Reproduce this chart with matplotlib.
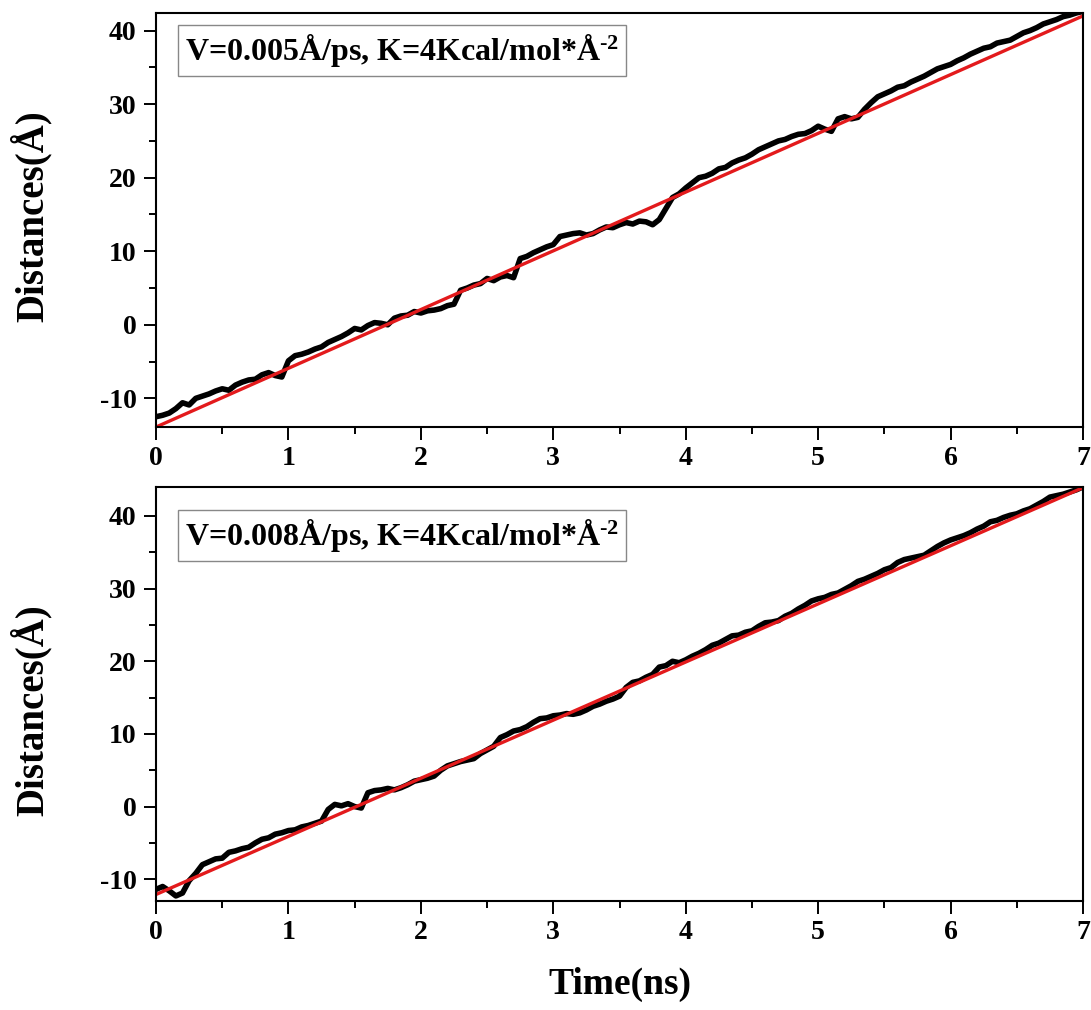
import numpy as np
import matplotlib
matplotlib.use("Agg")
import matplotlib.pyplot as plt

plt.rcParams['font.family'] = ['Liberation Serif', 'DejaVu Serif']
plt.rcParams['font.weight'] = 'bold'
plt.rcParams['axes.unicode_minus'] = False
plt.rcParams['mathtext.fontset'] = 'custom'
plt.rcParams['mathtext.rm'] = 'Liberation Serif:bold'
plt.rcParams['mathtext.bf'] = 'Liberation Serif:bold'
plt.rcParams['mathtext.default'] = 'bf'

# time axis (ns), sampled every 0.05 ns
time_ns = np.round(np.arange(0, 7.0001, 0.05), 2)

# pulling distance, V = 0.005 A/ps
dist_v005 = [
    -12.5, -12.3, -12.0, -11.4, -10.6, -10.9, -10.0, -9.7, -9.4, -9.0,
    -8.7, -8.9, -8.2, -7.8, -7.5, -7.4, -6.8, -6.5, -6.9, -7.1,
    -4.9, -4.2, -4.0, -3.7, -3.3, -3.0, -2.4, -2.0, -1.6, -1.1,
    -0.5, -0.7, -0.1, 0.3, 0.2, 0.0, 0.9, 1.2, 1.3, 1.8,
    1.6, 1.9, 2.0, 2.2, 2.6, 2.8, 4.7, 5.0, 5.4, 5.6,
    6.3, 6.0, 6.5, 6.7, 6.4, 9.0, 9.3, 9.8, 10.2, 10.6,
    10.9, 12.0, 12.2, 12.4, 12.5, 12.2, 12.4, 12.9, 13.3, 13.2,
    13.6, 13.9, 13.7, 14.1, 14.0, 13.6, 14.3, 15.8, 17.3, 17.8,
    18.6, 19.3, 20.0, 20.2, 20.6, 21.2, 21.4, 22.0, 22.4, 22.7,
    23.2, 23.8, 24.2, 24.6, 25.0, 25.2, 25.6, 25.9, 26.0, 26.4,
    27.0, 26.6, 26.3, 28.0, 28.3, 28.0, 28.2, 29.3, 30.2, 31.0,
    31.4, 31.8, 32.3, 32.5, 33.0, 33.4, 33.8, 34.3, 34.8, 35.1,
    35.4, 35.9, 36.3, 36.8, 37.2, 37.6, 37.8, 38.3, 38.5, 38.7,
    39.2, 39.7, 40.0, 40.4, 40.9, 41.2, 41.5, 41.9, 42.1, 42.4,
    42.6,
]

# pulling distance, V = 0.008 A/ps
dist_v008 = [
    -11.4, -11.0, -11.6, -12.3, -11.9, -10.2, -9.2, -8.0, -7.6, -7.2,
    -7.1, -6.3, -6.1, -5.8, -5.6, -5.0, -4.5, -4.3, -3.8, -3.6,
    -3.3, -3.2, -2.8, -2.6, -2.3, -2.0, -0.4, 0.3, 0.1, 0.4,
    0.0, -0.2, 1.9, 2.2, 2.3, 2.5, 2.3, 2.6, 3.0, 3.5,
    3.7, 3.9, 4.2, 5.0, 5.6, 5.9, 6.2, 6.4, 6.6, 7.3,
    7.8, 8.3, 9.5, 9.9, 10.4, 10.6, 11.0, 11.6, 12.1, 12.2,
    12.5, 12.6, 12.8, 12.7, 12.9, 13.3, 13.8, 14.1, 14.5, 14.8,
    15.2, 16.4, 17.1, 17.3, 17.8, 18.2, 19.2, 19.4, 20.0, 19.8,
    20.2, 20.7, 21.1, 21.6, 22.2, 22.5, 23.0, 23.5, 23.6, 24.0,
    24.2, 24.8, 25.3, 25.4, 25.6, 26.2, 26.6, 27.2, 27.7, 28.3,
    28.6, 28.8, 29.2, 29.4, 29.9, 30.4, 31.0, 31.3, 31.7, 32.1,
    32.6, 32.9, 33.6, 34.0, 34.2, 34.4, 34.6, 35.2, 35.8, 36.3,
    36.7, 37.0, 37.3, 37.7, 38.2, 38.6, 39.2, 39.4, 39.8, 40.1,
    40.3, 40.7, 41.0, 41.5, 42.0, 42.6, 42.8, 43.0, 43.3, 43.6,
    44.0,
]

# linear fits (start, end) at t = 0 and t = 7 ns
fit_v005 = [-13.9, 42.0]
fit_v008 = [-12.1, 43.9]
fit_t = [0, 7]

labels = [r"V=0.005Å/ps, K=4Kcal/mol*Å$^{\text{-2}}$",
          r"V=0.008Å/ps, K=4Kcal/mol*Å$^{\text{-2}}$"]
ylims = [(-13.9, 42.4), (-13.0, 44.0)]
label_y = [0.91, 0.882]
ylab_y = [0.51, 0.46]

fig = plt.figure(figsize=(10.91, 10.10), dpi=100)
ax1 = fig.add_axes([0.143, 0.5772, 0.8497, 0.41])
ax2 = fig.add_axes([0.143, 0.1079, 0.8497, 0.41])

panels = [(ax1, dist_v005, fit_v005), (ax2, dist_v008, fit_v008)]
for i, (ax, dist, fit) in enumerate(panels):
    ax.plot(time_ns, dist, color='black', lw=4.0)
    ax.plot(fit_t, fit, color='#e31a1c', lw=2.4)
    ax.set_xlim(0, 7)
    ax.set_ylim(*ylims[i])
    ax.set_xticks(range(0, 8))
    ax.set_xticks(np.arange(0.5, 7, 1), minor=True)
    ax.set_yticks([-10, 0, 10, 20, 30, 40])
    ax.set_yticks([-5, 5, 15, 25, 35], minor=True)
    ax.tick_params(which='major', direction='out', length=9, width=1.4,
                   labelsize=20, pad=5)
    ax.tick_params(which='minor', direction='out', length=5, width=1.4)
    for sp in ax.spines.values():
        sp.set_linewidth(1.5)
    ax.set_ylabel("Distances(Å)", fontsize=28, fontweight='bold')
    ax.yaxis.set_label_coords(-0.112, ylab_y[i])
    ax.text(0.031, label_y[i], labels[i], transform=ax.transAxes, fontsize=23,
            ha='left', va='center',
            bbox=dict(boxstyle='square,pad=0.22', fc='white', ec='#888888', lw=1))

fig.text(0.568, 0.025, "Time(ns)", ha='center', va='center',
         fontsize=27, fontweight='bold')

plt.savefig("out.png", dpi=100)
